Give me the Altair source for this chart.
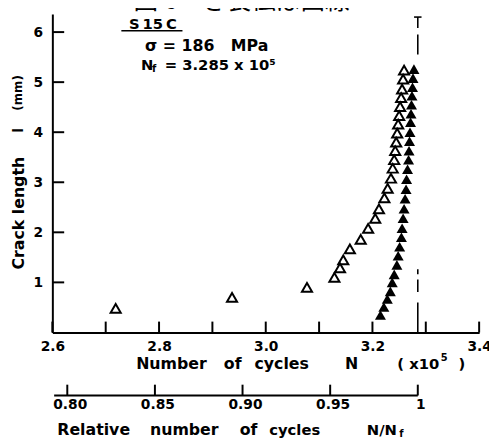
import altair as alt
import pandas as pd

# ---------------- data ----------------
NF = 3.285  # x10^5 cycles to failure

open_n = [3.2593, 3.2575, 3.2556, 3.2538, 3.2519, 3.2501, 3.2482, 3.2464, 3.2445,
          3.2427, 3.2408, 3.2380, 3.2347, 3.2285, 3.2224, 3.2122, 3.2052, 3.1919,
          3.1780, 3.1577, 3.1453, 3.1392, 3.1287, 3.0773, 2.9368, 2.7187]
open_l = [5.24, 5.06, 4.86, 4.69, 4.51, 4.33, 4.16, 3.98, 3.80, 3.63, 3.45, 3.28, 3.08,
          2.88, 2.69, 2.47, 2.28, 2.08, 1.86, 1.67, 1.45, 1.29, 1.10, 0.90, 0.70, 0.48]

filled_n = [3.2778, 3.2760, 3.2751, 3.2741, 3.2732, 3.2723, 3.2714, 3.2704, 3.2695,
            3.2686, 3.2677, 3.2658, 3.2640, 3.2630, 3.2612, 3.2593, 3.2575, 3.2556,
            3.2543, 3.2510, 3.2482, 3.2458, 3.2408, 3.2371, 3.2335, 3.2279, 3.2214, 3.2150]
filled_l = [5.26, 5.08, 4.90, 4.73, 4.55, 4.37, 4.20, 4.00, 3.82, 3.63, 3.45, 3.26, 3.06,
            2.86, 2.67, 2.47, 2.28, 2.08, 1.90, 1.71, 1.53, 1.35, 1.16, 1.00, 0.82, 0.67,
            0.51, 0.35]

x_tick_values = [2.6, 2.7, 2.8, 2.9, 3.0, 3.1, 3.2, 3.3, 3.4]
x_label_values = [2.6, 2.8, 3.0, 3.2, 3.4]
y_tick_values = [1, 2, 3, 4, 5, 6]

rel_ticks = [0.80, 0.85, 0.90, 0.95, 1.0]
rel_labels = ["0.80", "0.85", "0.90", "0.95", "1"]
rel_axis_start = 0.7925

# Nf marker (dash-dot line) segments, crack length mm
nf_seg_lo = [0.00, 0.81, 1.16, 5.55, 6.08]
nf_seg_hi = [0.60, 1.06, 1.26, 5.95, 6.30]

# ---------------- layout ----------------
W, H = 433, 323
F = "DejaVu Sans"
NB = "\u00a0"
xs = alt.Scale(domain=[2.6, 3.4], nice=False, zero=False)
ys = alt.Scale(domain=[0, 6.36], nice=False, zero=True)

xaxis = alt.Axis(values=x_label_values, format=".1f", ticks=False, grid=False,
                 domainColor="black", domainWidth=2, labelFont=F, labelFontSize=14,
                 labelFontWeight="bold", labelColor="black", labelPadding=7,
                 labelFlush=False, title=None)
yaxis = alt.Axis(values=y_tick_values, format="d", ticks=False, grid=False,
                 domainColor="black", domainWidth=2, labelFont=F, labelFontSize=14,
                 labelFontWeight="bold", labelColor="black", labelPadding=10,
                 title=None)

df_open = pd.DataFrame({"N": open_n, "l": open_l})
df_filled = pd.DataFrame({"N": filled_n, "l": filled_l})
df_xt = pd.DataFrame({"N": x_tick_values})
df_yt = pd.DataFrame({"l": y_tick_values})
df_rel = pd.DataFrame({"rel": rel_ticks, "label": rel_labels,
                       "N": [r * NF for r in rel_ticks]})
df_relaxis = pd.DataFrame({"x0": [rel_axis_start * NF], "x1": [NF]})
df_nf = pd.DataFrame({"N": [NF] * len(nf_seg_lo), "lo": nf_seg_lo, "hi": nf_seg_hi})
df_nfbar = pd.DataFrame({"x0": [NF - 0.007], "x1": [NF + 0.007], "l": [nf_seg_hi[-1]]})
one = pd.DataFrame({"a": [0]})

filled_pts = alt.Chart(df_filled).mark_point(
    shape="triangle-up", filled=True, color="black", size=125, opacity=1
).encode(x=alt.X("N:Q", scale=xs, axis=xaxis), y=alt.Y("l:Q", scale=ys, axis=yaxis))

open_pts = alt.Chart(df_open).mark_point(
    shape="triangle-up", filled=True, fill="white", stroke="black", strokeWidth=2,
    size=105, opacity=1, fillOpacity=1
).encode(x=alt.X("N:Q", scale=xs, axis=xaxis), y=alt.Y("l:Q", scale=ys, axis=yaxis))

xticks = alt.Chart(df_xt).mark_rule(color="black", strokeWidth=2).encode(
    x=alt.X("N:Q", scale=xs, axis=xaxis), y=alt.value(H), y2=alt.value(H - 11))
yticks = alt.Chart(df_yt).mark_rule(color="black", strokeWidth=2).encode(
    y=alt.Y("l:Q", scale=ys, axis=yaxis), x=alt.value(0), x2=alt.value(12))

nf_line = alt.Chart(df_nf).mark_rule(color="black", strokeWidth=1.6).encode(
    x=alt.X("N:Q", scale=xs, axis=xaxis), y=alt.Y("lo:Q", scale=ys, axis=yaxis), y2="hi:Q")
nf_bar = alt.Chart(df_nfbar).mark_rule(color="black", strokeWidth=1.6).encode(
    x=alt.X("x0:Q", scale=xs, axis=xaxis), x2="x1:Q",
    y=alt.Y("l:Q", scale=ys, axis=yaxis))

# secondary (relative) axis
SEC_Y = 387
rel_line = alt.Chart(df_relaxis).mark_rule(color="black", strokeWidth=2).encode(
    x=alt.X("x0:Q", scale=xs, axis=xaxis), x2="x1:Q", y=alt.value(SEC_Y))
rel_tick = alt.Chart(df_rel).mark_rule(color="black", strokeWidth=2).encode(
    x=alt.X("N:Q", scale=xs, axis=xaxis), y=alt.value(SEC_Y), y2=alt.value(SEC_Y - 11))
rel_text = alt.Chart(df_rel).mark_text(
    font=F, fontSize=14, fontWeight="bold", color="black", baseline="middle", dx=3
).encode(x=alt.X("N:Q", scale=xs, axis=xaxis), y=alt.value(SEC_Y + 10), text="label:N")


def txt(s, x, y, size=14, align="left", angle=0, baseline="middle", font=F, weight="bold"):
    return alt.Chart(one).mark_text(
        text=s, align=align, baseline=baseline, fontSize=size, font=font,
        fontWeight=weight, angle=angle, color="black"
    ).encode(x=alt.value(x), y=alt.value(y))


underline = alt.Chart(one).mark_rule(color="black", strokeWidth=1.6).encode(
    x=alt.value(70), x2=alt.value(132), y=alt.value(17))

TY = 355   # x-axis title row
RY = 422   # relative-axis title row
texts = [
    txt("図 6　き裂伝ぱ曲線", 192, 0, size=25, align="center", baseline="bottom",
        font="Noto Sans CJK JP", weight="normal"),
    txt("S\u200915\u2009C", 102, 10, size=15, align="center"),
    txt("σ = 186" + NB * 3 + "MPa", 94, 32, size=16),
    txt("N", 90, 52, size=15),
    txt("f", 101, 56, size=10),
    txt("= 3.285 x 10⁵", 114, 52, size=15),
    txt("Crack length", -34, 202, size=16, align="center", angle=270),
    txt("l", -34, 118, size=14, align="center", angle=270),
    txt("(mm)", -35, 80, size=12, align="center", angle=270),
    txt("Number", 85, TY, size=16),
    txt("of", 174, TY, size=16),
    txt("cycles", 205, TY, size=16),
    txt("N", 297, TY, size=16),
    txt("(", 350, TY, size=15),
    txt("x10", 362, TY, size=15),
    txt("5", 394, TY - 6, size=10),
    txt(")", 412, TY, size=15),
    txt("Relative", 5, RY, size=16),
    txt("number", 99, RY, size=16),
    txt("of", 190, RY, size=16),
    txt("cycles", 220, RY, size=15),
    txt("N/N", 319, RY, size=15),
    txt("f", 352, RY + 4, size=10),
]

chart = alt.layer(
    xticks, yticks, nf_line, nf_bar, filled_pts, open_pts,
    rel_line, rel_tick, rel_text, underline, *texts
).properties(
    width=W, height=H,
    autosize=alt.AutoSizeParams(type="none"),
    padding={"left": 45, "top": 3, "right": 10, "bottom": 108},
).configure_view(stroke=None)

chart.save("out.html", embed_options={"renderer": "svg", "actions": False})
